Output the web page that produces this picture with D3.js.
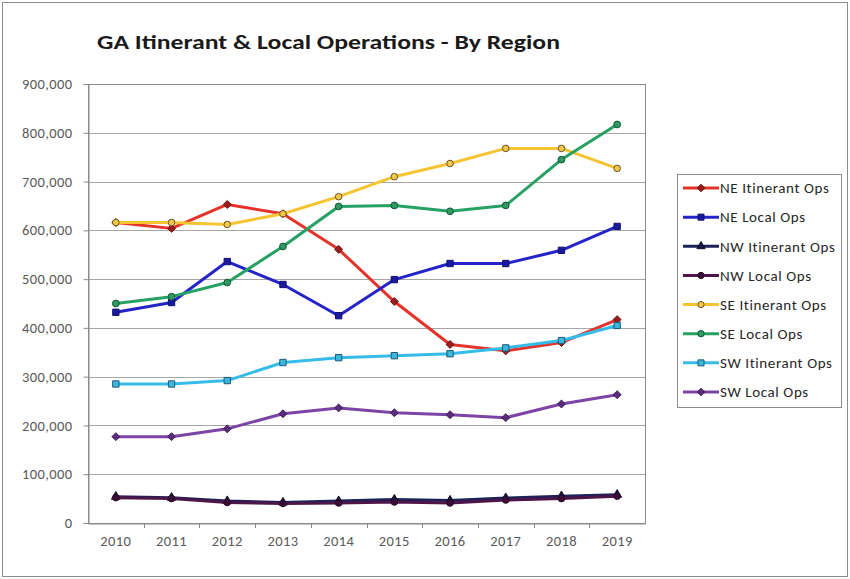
<!DOCTYPE html>
<html>
<head>
<meta charset="utf-8">
<script src="https://cdn.jsdelivr.net/npm/d3@7"></script>
<style>
  html, body { margin: 0; padding: 0; background: #fff; }
  svg { display: block; }
  text { font-family: Carlito, "Open Sans", "Liberation Sans", sans-serif; }
</style>
</head>
<body>
<svg id="chart" width="850" height="579"></svg>
<script>
// Annual GA operations by region
const years = ["2010", "2011", "2012", "2013", "2014", "2015", "2016", "2017", "2018", "2019"];
const seriesNames = ["NE Itinerant Ops", "NE Local Ops", "NW Itinerant Ops", "NW Local Ops",
                     "SE Itinerant Ops", "SE Local Ops", "SW Itinerant Ops", "SW Local Ops"];
const neItinerant = [616000, 604000, 653000, 634000, 561000, 454000, 366000, 353000, 370000, 417000];
const neLocal     = [432000, 452000, 536000, 489000, 425000, 499000, 532000, 532000, 559000, 608000];
const nwItinerant = [54000, 52000, 45000, 42000, 45000, 48000, 46000, 51000, 55000, 58000];
const nwLocal     = [52000, 50000, 42000, 40000, 41000, 43000, 41000, 47000, 50000, 55000];
const seItinerant = [616000, 616000, 612000, 634000, 669000, 710000, 737000, 768000, 768000, 727000];
const seLocal     = [450000, 464000, 493000, 567000, 649000, 651000, 639000, 651000, 745000, 817000];
const swItinerant = [285000, 285000, 292000, 329000, 339000, 343000, 347000, 359000, 374000, 405000];
const swLocal     = [177000, 177000, 193000, 224000, 236000, 226000, 222000, 216000, 244000, 263000];
const yTicks = [0, 100000, 200000, 300000, 400000, 500000, 600000, 700000, 800000, 900000];

const seriesValues = [neItinerant, neLocal, nwItinerant, nwLocal, seItinerant, seLocal, swItinerant, swLocal];

const diamond = d3.symbolDiamond2 || d3.symbolDiamond;

// line colour, marker shape, marker fill, marker stroke
const styles = [
  { line: "#E5332A", shape: diamond,          size: 40, fill: "#9B1C1C", stroke: "#6E1212" },
  { line: "#2424C8", shape: d3.symbolSquare,  size: 40, fill: "#1A1AA0", stroke: "#10106E" },
  { line: "#1C2257", shape: d3.symbolTriangle,size: 34, fill: "#141840", stroke: "#0E1030" },
  { line: "#4E1548", shape: d3.symbolCircle,  size: 34, fill: "#3A0E36", stroke: "#2A0A26" },
  { line: "#F6C431", shape: d3.symbolCircle,  size: 34, fill: "#F2C84A", stroke: "#6B5220" },
  { line: "#24A163", shape: d3.symbolCircle,  size: 36, fill: "#2E9A60", stroke: "#14553A" },
  { line: "#36BCE8", shape: d3.symbolSquare,  size: 40, fill: "#3CB6DC", stroke: "#185A78" },
  { line: "#7C44A6", shape: diamond,          size: 40, fill: "#5A2C7A", stroke: "#3E1E56" }
];

const series = seriesNames.map((name, i) => ({ name, values: seriesValues[i], style: styles[i] }));

const svg = d3.select("#chart");
const W = 850, H = 579;
const plot = { left: 88, right: 645, top: 84, bottom: 523 };
const labelFont = "Carlito, 'Open Sans', 'Liberation Sans', sans-serif";

// Outer chart frame
svg.append("rect")
  .attr("x", 2.5).attr("y", 2.5).attr("width", W - 5).attr("height", H - 5)
  .attr("fill", "#fff").attr("stroke", "#8c8c8c").attr("stroke-width", 1);

// Title
svg.append("text")
  .attr("x", 97).attr("y", 49)
  .attr("font-size", 20).attr("font-weight", "bold").attr("fill", "#1a1a1a")
  .attr("textLength", 463).attr("lengthAdjust", "spacingAndGlyphs")
  .text("GA Itinerant & Local Operations - By Region");

const x = d3.scaleBand().domain(years).range([plot.left, plot.right]);
const y = d3.scaleLinear().domain([0, 900000]).range([plot.bottom, plot.top]);

// Horizontal gridlines
svg.append("g")
  .selectAll("line")
  .data(yTicks.filter(t => t > 0))
  .join("line")
  .attr("x1", plot.left).attr("x2", plot.right)
  .attr("y1", d => Math.round(y(d)) + 0.5).attr("y2", d => Math.round(y(d)) + 0.5)
  .attr("stroke", "#a6a6a6").attr("stroke-width", 1);

// Plot area border
svg.append("rect")
  .attr("x", plot.left + 0.5).attr("y", plot.top + 0.5)
  .attr("width", plot.right - plot.left).attr("height", plot.bottom - plot.top)
  .attr("fill", "none").attr("stroke", "#8c8c8c").attr("stroke-width", 1);

// Y axis
const yAxis = svg.append("g")
  .attr("transform", `translate(${plot.left + 0.5},0)`)
  .call(d3.axisLeft(y).tickValues(yTicks).tickSize(5).tickPadding(11)
    .tickFormat(d3.format(",")));
yAxis.select(".domain").attr("stroke", "#8c8c8c");
yAxis.selectAll(".tick line").attr("stroke", "#8c8c8c");
yAxis.selectAll(".tick text")
  .attr("font-size", 14.5).attr("fill", "#595959").attr("letter-spacing", 0.4)
  .attr("font-family", labelFont);

// X axis with tick marks between categories
const xAxis = svg.append("g")
  .attr("transform", `translate(0,${plot.bottom + 0.5})`)
  .call(d3.axisBottom(x).tickSize(0).tickPadding(12));
xAxis.select(".domain").attr("stroke", "#8c8c8c");
xAxis.selectAll(".tick text")
  .attr("font-size", 14.5).attr("fill", "#595959").attr("letter-spacing", 0.4)
  .attr("font-family", labelFont);
svg.append("g")
  .selectAll("line")
  .data(years.slice(1))
  .join("line")
  .attr("x1", d => Math.round(x(d)) + 0.5).attr("x2", d => Math.round(x(d)) + 0.5)
  .attr("y1", plot.bottom).attr("y2", plot.bottom + 5)
  .attr("stroke", "#8c8c8c");

// Series lines and markers
const cx = d => x(d) + x.bandwidth() / 2;
const line = d3.line().x((v, i) => cx(years[i])).y(v => y(v));

const gSeries = svg.append("g");
series.forEach(s => {
  const g = gSeries.append("g");
  g.append("path")
    .attr("d", line(s.values))
    .attr("fill", "none")
    .attr("stroke", s.style.line)
    .attr("stroke-width", 3)
    .attr("stroke-linejoin", "round");
  g.selectAll("path.marker")
    .data(s.values)
    .join("path")
    .attr("class", "marker")
    .attr("d", d3.symbol().type(s.style.shape).size(s.style.size))
    .attr("transform", (v, i) => `translate(${cx(years[i])},${y(v)})`)
    .attr("fill", s.style.fill)
    .attr("stroke", s.style.stroke)
    .attr("stroke-width", 1);
});

// Legend
const legend = svg.append("g");
legend.append("rect")
  .attr("x", 677.5).attr("y", 174.5).attr("width", 164).attr("height", 233)
  .attr("fill", "#fff").attr("stroke", "#8c8c8c");
const legendY = d3.scalePoint().domain(seriesNames).range([188, 392]);
series.forEach(s => {
  const ly = legendY(s.name);
  legend.append("line")
    .attr("x1", 683).attr("x2", 719).attr("y1", ly).attr("y2", ly)
    .attr("stroke", s.style.line).attr("stroke-width", 3);
  legend.append("path")
    .attr("d", d3.symbol().type(s.style.shape).size(s.style.size - 4))
    .attr("transform", `translate(701,${ly})`)
    .attr("fill", s.style.fill).attr("stroke", s.style.stroke).attr("stroke-width", 1);
  legend.append("text")
    .attr("x", 720).attr("y", ly).attr("dy", "0.35em")
    .attr("font-size", 15).attr("letter-spacing", 0.6).attr("fill", "#262626")
    .text(s.name);
});
</script>
</body>
</html>
